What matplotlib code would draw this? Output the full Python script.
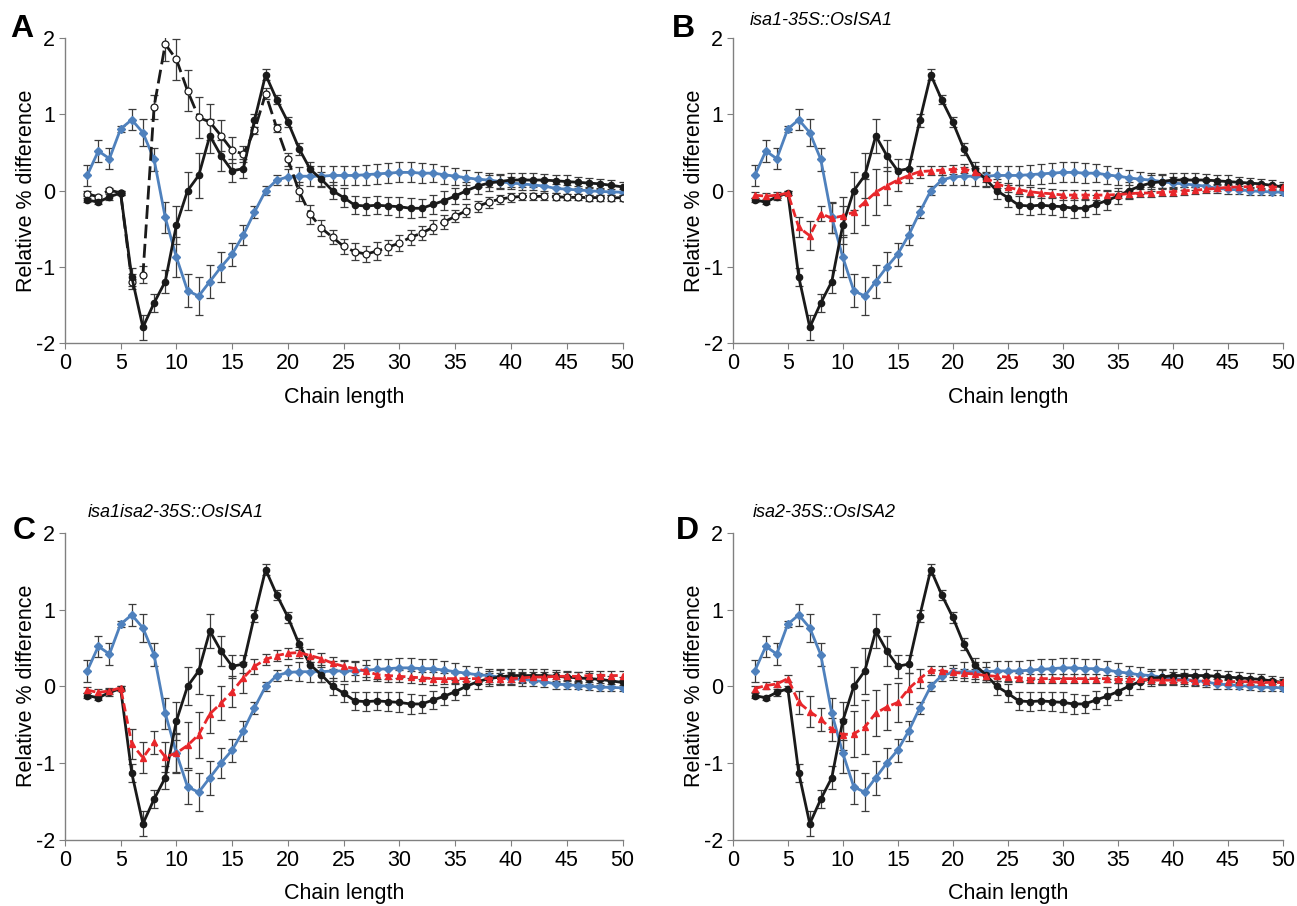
import numpy as np
import matplotlib
matplotlib.use("Agg")
import matplotlib.pyplot as plt

plt.rcParams['font.family'] = ['Liberation Sans', 'DejaVu Sans']
plt.rcParams['axes.unicode_minus'] = False

# chain lengths (DP 2..50)
chain = np.arange(2, 51)

# shared series (same in all panels)
black = [-0.12,-0.15,-0.08,-0.03,-1.13,-1.79,-1.47,-1.19,-0.45,
         0.0,0.2,0.72,0.46,0.26,0.29,0.92,1.52,1.19,0.9,
         0.55,0.28,0.15,0.0,-0.09,-0.19,-0.2,-0.19,-0.2,-0.21,
         -0.23,-0.23,-0.18,-0.13,-0.07,0.0,0.06,0.1,0.12,0.14,
         0.14,0.14,0.14,0.13,0.12,0.11,0.10,0.09,0.07,0.05]
black_err = [0.03,0.03,0.04,0.03,0.12,0.16,0.12,0.15,0.25,
             0.25,0.3,0.22,0.2,0.15,0.12,0.08,0.07,0.06,0.07,
             0.08,0.09,0.1,0.11,0.12,0.12,0.12,0.12,0.12,0.13,
             0.13,0.12,0.12,0.12,0.11,0.11,0.1,0.1,0.1,0.09,
             0.09,0.09,0.08,0.08,0.08,0.07,0.07,0.07,0.07,0.065]

blue = [0.20,0.52,0.42,0.81,0.93,0.76,0.41,-0.35,-0.87,
        -1.31,-1.38,-1.19,-1.0,-0.83,-0.58,-0.28,0.0,0.14,0.18,
        0.19,0.19,0.19,0.2,0.2,0.2,0.21,0.22,0.23,0.24,
        0.24,0.23,0.23,0.21,0.19,0.17,0.15,0.14,0.12,0.10,
        0.09,0.075,0.06,0.03,0.02,0.01,0.0,-0.01,-0.015,-0.02]
blue_err = [0.14,0.14,0.14,0.04,0.14,0.18,0.15,0.2,0.26,
            0.22,0.25,0.22,0.2,0.15,0.13,0.08,0.06,0.07,0.1,
            0.12,0.13,0.13,0.13,0.13,0.13,0.13,0.13,0.13,0.13,
            0.13,0.13,0.12,0.12,0.11,0.1,0.1,0.09,0.09,0.08,
            0.08,0.07,0.07,0.06,0.06,0.05,0.05,0.05,0.04,0.04]

# panel A only
open_c = [-0.04,-0.08,0.01,-0.03,-1.19,-1.10,1.10,1.92,1.72,
          1.31,0.96,0.9,0.72,0.53,0.48,0.79,1.27,0.82,0.41,
          -0.01,-0.31,-0.49,-0.61,-0.73,-0.80,-0.83,-0.79,-0.74,-0.685,
          -0.61,-0.555,-0.48,-0.41,-0.335,-0.26,-0.205,-0.15,-0.11,-0.087,
          -0.074,-0.074,-0.074,-0.077,-0.087,-0.087,-0.09,-0.09,-0.095,-0.09]
open_err = [0.03,0.03,0.03,0.03,0.1,0.11,0.16,0.22,0.27,
            0.27,0.27,0.24,0.2,0.17,0.11,0.05,0.07,0.05,0.09,
            0.12,0.12,0.1,0.09,0.1,0.11,0.11,0.12,0.1,0.1,
            0.1,0.09,0.09,0.09,0.08,0.08,0.07,0.07,0.06,0.06,
            0.05,0.05,0.05,0.05,0.04,0.04,0.04,0.04,0.04,0.04]

# complemented lines (red)
red_b = [-0.06,-0.07,-0.06,-0.03,-0.48,-0.59,-0.30,-0.36,-0.33,
         -0.28,-0.15,-0.02,0.065,0.14,0.2,0.25,0.26,0.27,0.28,
         0.29,0.24,0.17,0.09,0.044,0.013,-0.013,-0.03,-0.04,-0.057,
         -0.057,-0.057,-0.057,-0.057,-0.05,-0.04,-0.03,-0.03,-0.02,-0.013,
         0.0,0.005,0.02,0.03,0.044,0.05,0.053,0.053,0.05,0.044]
red_b_err = [0.04,0.04,0.04,0.03,0.13,0.19,0.1,0.2,0.25,
             0.27,0.3,0.3,0.25,0.15,0.1,0.08,0.06,0.06,0.06,
             0.06,0.06,0.06,0.06,0.06,0.06,0.06,0.06,0.06,0.06,
             0.06,0.06,0.06,0.06,0.05,0.05,0.05,0.05,0.05,0.05,
             0.05,0.05,0.05,0.04,0.04,0.04,0.04,0.04,0.04,0.04]

red_c = [-0.05,-0.08,-0.06,-0.02,-0.75,-0.93,-0.73,-0.92,-0.87,
         -0.77,-0.63,-0.36,-0.22,-0.07,0.11,0.26,0.35,0.40,0.43,
         0.44,0.40,0.36,0.30,0.26,0.23,0.20,0.15,0.14,0.13,
         0.12,0.11,0.10,0.10,0.10,0.10,0.10,0.10,0.10,0.10,
         0.11,0.12,0.12,0.13,0.13,0.13,0.14,0.14,0.14,0.14]
red_c_err = [0.04,0.04,0.04,0.03,0.2,0.2,0.15,0.2,0.25,
             0.3,0.3,0.25,0.22,0.2,0.2,0.1,0.07,0.07,0.07,
             0.07,0.08,0.08,0.08,0.08,0.08,0.08,0.08,0.08,0.08,
             0.08,0.08,0.08,0.07,0.07,0.07,0.07,0.07,0.07,0.07,
             0.07,0.06,0.06,0.06,0.06,0.06,0.06,0.06,0.06,0.06]

red_d = [-0.03,0.01,0.03,0.10,-0.21,-0.33,-0.43,-0.56,-0.63,
         -0.62,-0.53,-0.35,-0.27,-0.21,-0.03,0.10,0.21,0.20,0.18,
         0.17,0.16,0.14,0.13,0.12,0.11,0.10,0.10,0.10,0.10,
         0.10,0.10,0.10,0.10,0.09,0.09,0.09,0.08,0.08,0.08,
         0.08,0.07,0.07,0.07,0.06,0.06,0.06,0.05,0.05,0.05]
red_d_err = [0.04,0.04,0.04,0.05,0.15,0.2,0.15,0.15,0.2,
             0.3,0.35,0.3,0.3,0.25,0.2,0.12,0.06,0.06,0.06,
             0.06,0.06,0.06,0.06,0.06,0.06,0.06,0.06,0.06,0.06,
             0.06,0.06,0.06,0.05,0.05,0.05,0.05,0.05,0.05,0.05,
             0.05,0.05,0.05,0.05,0.04,0.04,0.04,0.04,0.04,0.04]

letters = ['A', 'B', 'C', 'D']
titles = ['', 'isa1-35S::OsISA1', 'isa1isa2-35S::OsISA1', 'isa2-35S::OsISA2']
reds = [None, (red_b, red_b_err), (red_c, red_c_err), (red_d, red_d_err)]

BLUE = '#4f81bd'
RED = '#e8272b'
BLK = '#1a1a1a'
ERR = '#3c3c3c'

fig = plt.figure(figsize=(12.97, 9.06), dpi=100)
# axes rects [left, bottom, width, height]
rects = [[0.050, 0.621, 0.430, 0.337],
         [0.565, 0.621, 0.424, 0.337],
         [0.050, 0.073, 0.430, 0.339],
         [0.565, 0.073, 0.424, 0.339]]


def series(ax, y, e, color, **kw):
    ax.errorbar(chain, y, yerr=e, fmt='none', ecolor=ERR, elinewidth=0.9,
                capsize=3, capthick=0.9, zorder=2)
    ax.plot(chain, y, color=color, lw=2.0, zorder=3, **kw)


for i, ax_rect in enumerate(rects):
    ax = fig.add_axes(ax_rect)
    series(ax, blue, blue_err, BLUE, marker='D', ms=4.5)
    if i == 0:
        series(ax, open_c, open_err, BLK, ls=(0, (5, 2)), marker='o', ms=5,
               mfc='white', mec=BLK, mew=0.9)
    series(ax, black, black_err, BLK, marker='o', ms=4.5)
    if reds[i] is not None:
        series(ax, reds[i][0], reds[i][1], RED, ls=(0, (3, 1.5)), marker='^', ms=5)

    ax.set_xlim(0, 50)
    ax.set_ylim(-2, 2)
    ax.set_xticks(range(0, 51, 5))
    ax.set_yticks([-2, -1, 0, 1, 2])
    for s in ['top', 'right']:
        ax.spines[s].set_visible(False)
    for s in ['left', 'bottom']:
        ax.spines[s].set_color('#808080')
        ax.spines[s].set_linewidth(1.0)
    ax.tick_params(direction='out', length=4, color='#808080', labelsize=15.5, pad=3)
    ax.set_xlabel('Chain length', fontsize=15.5, labelpad=9)
    ax.set_ylabel('Relative % difference', fontsize=15.5, labelpad=-1)

# panel letters and titles
fig.text(0.008, 0.985, 'A', fontsize=23, fontweight='bold', va='top')
fig.text(0.518, 0.985, 'B', fontsize=23, fontweight='bold', va='top')
fig.text(0.010, 0.430, 'C', fontsize=23, fontweight='bold', va='top')
fig.text(0.521, 0.430, 'D', fontsize=23, fontweight='bold', va='top')
fig.text(0.578, 0.977, titles[1], fontsize=13, style='italic', va='center')
fig.text(0.068, 0.434, titles[2], fontsize=13, style='italic', va='center')
fig.text(0.580, 0.434, titles[3], fontsize=13, style='italic', va='center')

fig.savefig('out.png', dpi=100)
